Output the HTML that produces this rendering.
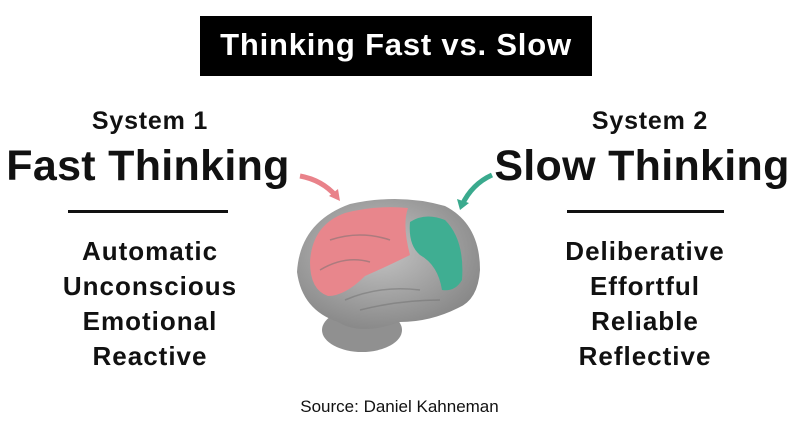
<!DOCTYPE html>
<html><head><style>
body{margin:0;width:799px;height:433px;background:#fff;position:relative;overflow:hidden;font-family:"Liberation Sans",Arial,sans-serif}
.a{position:absolute;text-align:center;font-weight:bold;color:#111}
</style></head><body>
<div style="position:absolute;left:200px;top:16px;width:392px;height:60px;background:#000;color:#fff;font-weight:bold;font-size:31px;letter-spacing:0.8px;line-height:58px;text-align:center">Thinking Fast vs. Slow</div>
<div class="a" style="left:50px;width:200px;top:107px;font-size:25px;letter-spacing:0.8px">System 1</div>
<div class="a" style="left:-10px;width:316px;top:142px;font-size:43px;letter-spacing:0.3px">Fast Thinking</div>
<div style="position:absolute;left:68px;top:210px;width:160px;height:3px;background:#111"></div>
<div class="a" style="left:20px;width:260px;top:234px;font-size:26px;letter-spacing:1px;line-height:35px">Automatic<br>Unconscious<br>Emotional<br>Reactive</div>
<div class="a" style="left:550px;width:200px;top:107px;font-size:25px;letter-spacing:0.8px">System 2</div>
<div class="a" style="left:484px;width:316px;top:142px;font-size:43px;letter-spacing:0.3px">Slow Thinking</div>
<div style="position:absolute;left:567px;top:210px;width:157px;height:3px;background:#111"></div>
<div class="a" style="left:515px;width:260px;top:234px;font-size:26px;letter-spacing:1px;line-height:35px">Deliberative<br>Effortful<br>Reliable<br>Reflective</div>
<svg style="position:absolute;left:0;top:0" width="799" height="433">
<defs><radialGradient id="g" cx="45%" cy="40%" r="65%"><stop offset="0" stop-color="#c4c4c4"/><stop offset="1" stop-color="#858585"/></radialGradient></defs>
<path d="M300 176 Q322 180 336 196" stroke="#e9828a" stroke-width="5" fill="none"/>
<path d="M329 196 L340 201 L338 189 Z" fill="#e9828a"/>
<path d="M492 175 Q472 184 462 205" stroke="#3aaa8e" stroke-width="5" fill="none"/>
<path d="M457 199 L460 210 L469 203 Z" fill="#3aaa8e"/>
<ellipse cx="362" cy="330" rx="40" ry="22" fill="#909090"/>
<path d="M297 272 Q300 222 350 204 Q400 193 445 206 Q480 224 480 270 Q478 300 458 308 Q430 322 400 322 Q360 336 338 322 Q302 310 297 272 Z" fill="url(#g)"/>
<path d="M310 262 Q312 225 345 213 Q375 205 408 208 Q402 225 410 255 Q390 265 365 276 Q345 296 328 296 Q310 290 310 262 Z" fill="#e8868c"/>
<path d="M410 222 Q425 212 445 220 Q465 240 462 280 Q455 292 442 290 Q438 265 420 255 Q408 245 410 222 Z" fill="#3fae92"/>
<path d="M345 300 Q380 285 420 290 M360 310 Q400 300 440 300 M330 240 Q360 230 390 240 M320 270 Q345 255 370 262" stroke="#6f6f6f" stroke-width="1.5" fill="none" opacity=".5"/>
</svg>
<div style="position:absolute;left:0;width:799px;top:397px;text-align:center;font-size:17px;color:#111">Source: Daniel Kahneman</div>
</body></html>
